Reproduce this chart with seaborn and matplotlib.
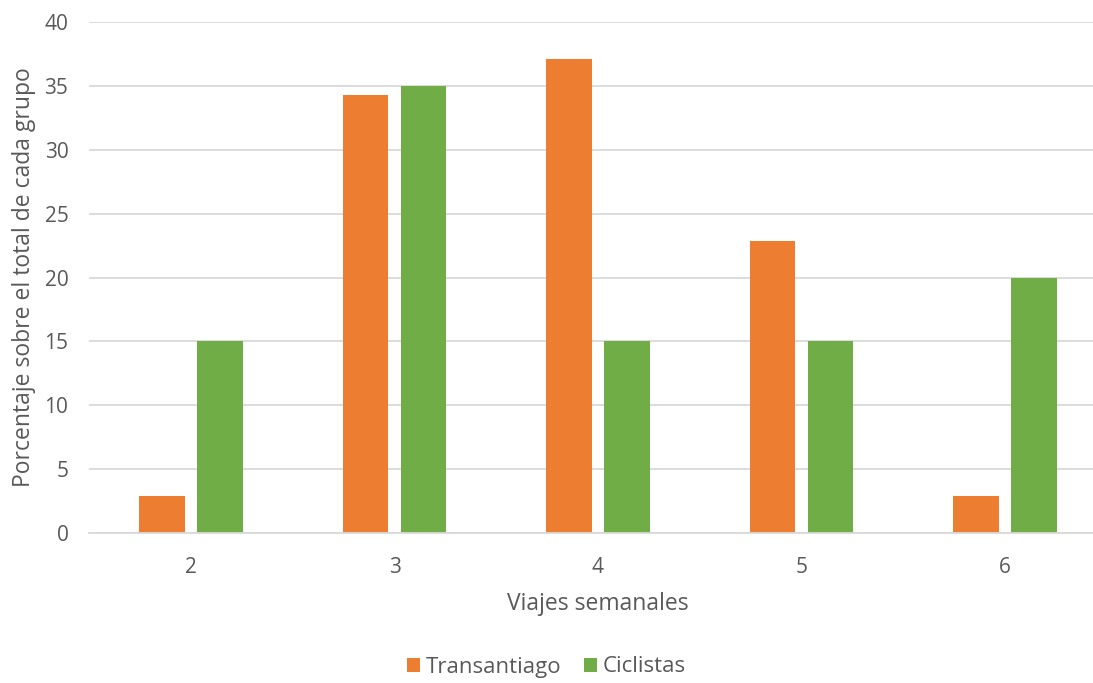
import matplotlib
matplotlib.use("Agg")
import matplotlib.pyplot as plt
import seaborn as sns
import pandas as pd

# Weekly trips distribution per group (percent of each group's total)
viajes = ["2", "3", "4", "5", "6"]
transantiago = [2.86, 34.29, 37.14, 22.86, 2.86]
ciclistas = [15, 35, 15, 15, 20]
grupos = ["Transantiago", "Ciclistas"]
colores = ["#ED7D31", "#70AD47"]

df = pd.DataFrame({
    "viajes": viajes * 2,
    "valor": transantiago + ciclistas,
    "grupo": [grupos[0]] * len(viajes) + [grupos[1]] * len(viajes),
})

sns.set_theme(style="white")
plt.rcParams["font.family"] = ["Open Sans", "DejaVu Sans"]
gris = "#595959"

W, H = 1093, 683
fig = plt.figure(figsize=(W / 100, H / 100), dpi=100)
ax = fig.add_axes([89.25 / W, 1 - 533 / H, 1017.5 / W, 511 / H])

sns.barplot(data=df, x="viajes", y="valor", hue="grupo", order=viajes,
            hue_order=grupos, palette=colores, width=0.57, gap=0.207,
            saturation=1, errorbar=None, linewidth=0, ax=ax, legend=True)

ax.set_xlim(-0.5, 4.5)
ax.set_ylim(0, 40)
ax.set_yticks(range(0, 41, 5))
ax.yaxis.grid(True, color="#D9D9D9", linewidth=1.3)
ax.set_axisbelow(True)
for s in ["top", "right", "left"]:
    ax.spines[s].set_visible(False)
ax.spines["bottom"].set_color("#D9D9D9")
ax.spines["bottom"].set_linewidth(1.3)
ax.tick_params(axis="both", length=0, labelsize=15, colors=gris)
ax.tick_params(axis="x", pad=17)
ax.tick_params(axis="y", pad=15)

ax.set_xlabel("Viajes semanales", fontsize=16.5, color=gris, labelpad=10)
ax.set_ylabel("Porcentaje sobre el total de cada grupo", fontsize=16.5,
              color=gris, labelpad=6)

handles, labels = ax.get_legend_handles_labels()
ax.get_legend().remove()
fig.legend(handles, labels, loc="center", bbox_to_anchor=(0.5, 1 - 667 / H),
           ncol=2, frameon=False, fontsize=16, labelcolor=gris,
           handlelength=0.6, handleheight=0.6, handletextpad=0.25,
           columnspacing=1.0)

fig.savefig("out.png", dpi=100)
